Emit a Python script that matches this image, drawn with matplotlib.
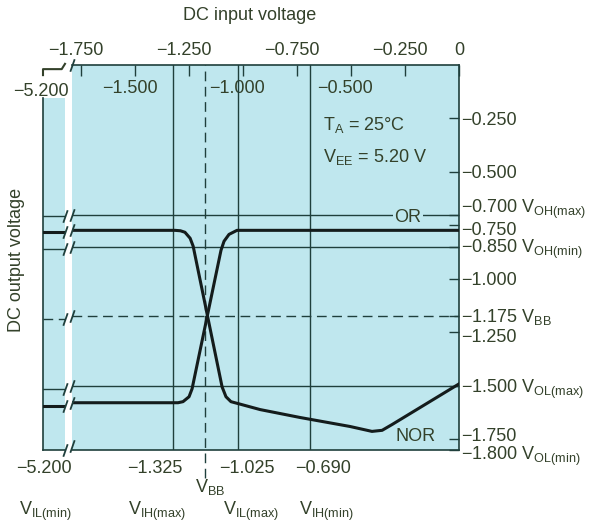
import matplotlib
matplotlib.use('Agg')
import matplotlib.pyplot as plt
from matplotlib.path import Path
from matplotlib.transforms import ScaledTranslation

plt.rcParams['font.family'] = ['Liberation Sans', 'DejaVu Sans']
plt.rcParams['mathtext.fontset'] = 'custom'
plt.rcParams['mathtext.rm'] = 'Liberation Sans'
plt.rcParams['mathtext.it'] = 'Liberation Sans:italic'
plt.rcParams['mathtext.bf'] = 'Liberation Sans:bold'

# ---------------- data ----------------
# input (x) axis ticks
top_major = [-1.75, -1.25, -0.75, -0.25, 0.0]
top_major_labels = ['\u22121.750', '\u22121.250', '\u22120.750', '\u22120.250', '0']
top_inner = [-1.5, -1.0, -0.5]
top_inner_labels = ['\u22121.500', '\u22121.000', '\u22120.500']

# output (y) axis ticks
right_ticks = [-0.25, -0.5, -0.7, -0.75, -0.85, -1.0, -1.175, -1.25, -1.5, -1.75, -1.8]
right_labels = ['\u22120.250', '\u22120.500',
                '\u22120.700 V$_{\\mathrm{OH(max)}}$', '\u22120.750',
                '\u22120.850 V$_{\\mathrm{OH(min)}}$', '\u22121.000',
                '\u22121.175 V$_{\\mathrm{BB}}$', '\u22121.250',
                '\u22121.500 V$_{\\mathrm{OL(max)}}$', '\u22121.750',
                '\u22121.800 V$_{\\mathrm{OL(min)}}$']

# input threshold levels
vin_levels = [-1.325, -1.025, -0.690]
vin_labels = ['\u22121.325', '\u22121.025', '\u22120.690']
vin_names = ['V$_{\\mathrm{IH(max)}}$', 'V$_{\\mathrm{IL(max)}}$', 'V$_{\\mathrm{IH(min)}}$']
vbb_in = -1.175
vil_min_label = '\u22125.200'

# output levels
out_levels = [-0.70, -0.85, -1.50]
vbb_out = -1.175
high_level = -0.773
low_level = -1.579

# transfer curves (input V, output V)
or_x = [-1.792, -1.301, -1.278, -1.250, -1.236, -1.102, -1.088, -1.065, -1.028, 0.0]
or_y = [low_level, low_level, -1.574, -1.551, -1.514, -0.866, -0.824, -0.792, high_level, high_level]
nor_x = [-1.792, -1.315, -1.290, -1.269, -1.245, -1.231, -1.097, -1.079, -1.056, -1.023,
         -0.921, -0.736, -0.505, -0.403, -0.356, -0.310, 0.0]
nor_y = [high_level, high_level, -0.775, -0.782, -0.810, -0.847, -1.505, -1.551, -1.574, -1.583,
         -1.611, -1.648, -1.690, -1.713, -1.708, -1.681, -1.491]

# ---------------- style ----------------
BG = '#bfe7ee'
LINE = '#1f3f3c'
CURVE = '#141c1c'
TXT = '#33412a'
FS = 13

X_MIN, X_MAX = -1.792, 0.0
Y_BOT, Y_TOP = -1.782, 0.0

fig = plt.figure(figsize=(6.1, 5.25), dpi=100)
ax = fig.add_axes([72 / 610, 1 - 450 / 525, 387 / 610, 385 / 525])
axL = fig.add_axes([43 / 610, 1 - 450 / 525, 22 / 610, 352 / 525])

for a in (ax, axL):
    a.set_facecolor(BG)

ax.set_xlim(X_MIN, X_MAX)
ax.set_ylim(Y_BOT, Y_TOP)
left_top = Y_BOT + (Y_TOP - Y_BOT) * 352 / 385
axL.set_xlim(0, 1)
axL.set_ylim(Y_BOT, left_top)

# spines
for s in ('top', 'bottom', 'right'):
    ax.spines[s].set_color(LINE)
    ax.spines[s].set_linewidth(1.2)
ax.spines['left'].set_visible(False)
for s in ('left', 'bottom'):
    axL.spines[s].set_color(LINE)
    axL.spines[s].set_linewidth(1.2)
axL.spines['top'].set_visible(False)
axL.spines['right'].set_visible(False)
axL.set_xticks([])
axL.set_yticks([])

# grid / threshold lines
for a in (ax, axL):
    for yv in out_levels:
        a.axhline(yv, color=LINE, lw=1.0, zorder=2)
    a.axhline(vbb_out, color=LINE, lw=1.0, dashes=(7, 4), zorder=2)
for xv in vin_levels:
    ax.axvline(xv, color=LINE, lw=1.0, zorder=2)
ax.axvline(vbb_in, ymin=-0.073, ymax=1, color=LINE, lw=1.0, dashes=(7, 4), zorder=2, clip_on=False)

# curves
ax.plot(or_x, or_y, color=CURVE, lw=2.2, zorder=4, solid_joinstyle='round')
ax.plot(nor_x, nor_y, color=CURVE, lw=2.2, zorder=4, solid_joinstyle='round')
axL.axhline(high_level, color=CURVE, lw=2.2, zorder=4)
axL.axhline(low_level, color=CURVE, lw=2.2, zorder=4)

# break marks
slash = Path([(-0.35, -1.0), (0.35, 1.0)], [Path.MOVETO, Path.LINETO])
break_ys = out_levels + [vbb_out, high_level, low_level, Y_BOT]
axL.plot([1.0] * len(break_ys), break_ys, ls='none', marker=slash, ms=9, mew=1.3,
         color=LINE, transform=axL.get_yaxis_transform(), clip_on=False, zorder=5)
ax.plot([0.0] * (len(break_ys) + 1), break_ys + [Y_TOP], ls='none', marker=slash, ms=9, mew=1.3,
        color=LINE, transform=ax.get_yaxis_transform(), clip_on=False, zorder=5)
# bracket above left section
axL.plot([0, 0, 0.85, 1.0], [1.065, 1.082, 1.082, 1.097], color=TXT, lw=1.5,
         transform=axL.transAxes, clip_on=False)

# top (input) axis
ax.xaxis.set_ticks_position('top')
ax.set_xticks(top_major, top_major_labels)
ax.set_xticks(top_inner, top_inner_labels, minor=True)
ax.tick_params(axis='x', which='both', direction='in', length=8, width=1.0, color=LINE,
               labelsize=FS, labelcolor=TXT, bottom=False, labelbottom=False,
               top=True, labeltop=True)
ax.tick_params(axis='x', which='major', pad=4)
ax.tick_params(axis='x', which='minor', pad=-23)
for lab in ax.get_xticklabels(which='both'):
    if lab.get_text() != '0':
        lab.set_transform(lab.get_transform() + ScaledTranslation(-4 / 72, 0, fig.dpi_scale_trans))

# right (output) axis
ax.yaxis.set_ticks_position('right')
ax.set_yticks(right_ticks, right_labels)
ax.tick_params(axis='y', direction='in', length=7, width=1.0, color=LINE, pad=1.5,
               labelsize=FS, labelcolor=TXT, left=False, labelleft=False,
               right=True, labelright=True)
shifts = {'\u22120.700': 6.5, '\u22120.750': -2.2, '\u22120.850': 1.0, '\u22121.175': 1.2,
          '\u22121.250': -2.2, '\u22121.750': 3.5, '\u22121.800': -1.8}
for lab in ax.get_yticklabels():
    for k, dy in shifts.items():
        if lab.get_text().startswith(k):
            lab.set_transform(lab.get_transform() + ScaledTranslation(0, dy / 72, fig.dpi_scale_trans))

# bottom labels
row1, rowbb, row2 = -13, -26.5, -44
dx1 = [-13, 7, 9.4]
dx2 = [-11, 9.4, 12]
for xv, lab, nm, d1, d2 in zip(vin_levels, vin_labels, vin_names, dx1, dx2):
    ax.annotate(lab, xy=(xv, 0), xycoords=('data', 'axes fraction'), xytext=(d1, row1),
                textcoords='offset points', ha='center', va='center', fontsize=FS, color=TXT)
    ax.annotate(nm, xy=(xv, 0), xycoords=('data', 'axes fraction'), xytext=(d2, row2),
                textcoords='offset points', ha='center', va='center', fontsize=FS, color=TXT)
ax.annotate('V$_{\\mathrm{BB}}$', xy=(vbb_in, 0), xycoords=('data', 'axes fraction'),
            xytext=(3.6, rowbb), textcoords='offset points', ha='center', va='center',
            fontsize=FS, color=TXT)
axL.annotate(vil_min_label, xy=(0, 0), xycoords='axes fraction', xytext=(1, row1),
             textcoords='offset points', ha='center', va='center', fontsize=FS, color=TXT)
axL.annotate('V$_{\\mathrm{IL(min)}}$', xy=(0, 0), xycoords='axes fraction', xytext=(1.5, row2),
             textcoords='offset points', ha='center', va='center', fontsize=FS, color=TXT)
axL.annotate(vil_min_label, xy=(0, 1), xycoords='axes fraction', xytext=(-1.4, 5),
             textcoords='offset points', ha='center', va='center', fontsize=FS, color=TXT,
             zorder=6)

# annotations
ax.text(-0.63, -0.282, 'T$_{\\mathrm{A}}$ = 25\u00b0C', fontsize=FS, color=TXT, ha='left', va='center')
ax.text(-0.63, -0.43, 'V$_{\\mathrm{EE}}$ = 5.20 V', fontsize=FS, color=TXT, ha='left', va='center')
ax.text(-0.236, -0.713, 'OR', fontsize=FS, color=TXT, ha='center', va='center', zorder=6,
        bbox=dict(facecolor=BG, edgecolor='none', pad=1))
ax.text(-0.199, -1.736, 'NOR', fontsize=FS, color=TXT, ha='center', va='center', zorder=6)

fig.text(250 / 610, 1 - 15 / 525, 'DC input voltage', fontsize=FS, color=TXT, ha='center', va='center')
fig.text(17 / 610, 1 - 260 / 525, 'DC output voltage', fontsize=FS, color=TXT, ha='center',
         va='center', rotation=90)

fig.savefig('out.png', dpi=100)
